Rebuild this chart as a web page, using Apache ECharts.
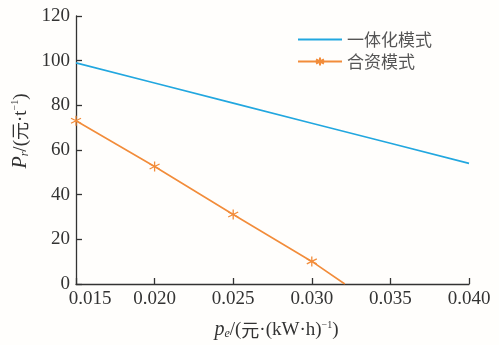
<!DOCTYPE html>
<html>
<head>
<meta charset="utf-8">
<script src="https://cdn.jsdelivr.net/npm/echarts@6/dist/echarts.min.js"></script>
<style>html,body{margin:0;padding:0;background:#fffefc;}#c{width:499px;height:345px;}</style>
</head>
<body>
<div id="c"></div>
<script>
var seriesNames = ['一体化模式', '合资模式'];
var blueX = [0.015, 0.020, 0.025, 0.030, 0.035, 0.040];
var blueY = [99, 90, 81, 72, 63, 54];
var orangeX = [0.015, 0.020, 0.025, 0.030, 0.0321];
var orangeY = [73.1, 52.6, 31.1, 10.1, 0];
var orangeMarked = [true, true, true, true, false];
var xTicks = [0.015, 0.020, 0.025, 0.030, 0.035, 0.040];
var yTicks = [0, 20, 40, 60, 80, 100, 120];

var serif = 'Liberation Serif';
var cjk = 'Noto Sans CJK SC';
var asterisk = 'path://M0,-5L0,5M-4.33,-2.5L4.33,2.5M-4.33,2.5L4.33,-2.5';

var blueData = blueX.map(function (x, i) { return [x, blueY[i]]; });
var orangeData = orangeX.map(function (x, i) {
  var d = { value: [x, orangeY[i]] };
  if (!orangeMarked[i]) d.symbol = 'none';
  return d;
});

var titleRich = {
  i: { fontFamily: serif, fontStyle: 'italic', fontSize: 20, color: '#333' },
  sub: { fontFamily: serif, fontStyle: 'italic', fontSize: 12, color: '#333', verticalAlign: 'bottom', padding: [8, 0, 0, 0] },
  t: { fontFamily: serif, fontSize: 19, color: '#333' },
  c: { fontFamily: cjk, fontSize: 18, color: '#333' },
  sup: { fontFamily: serif, fontSize: 10, color: '#333', verticalAlign: 'top', padding: [0, 0, 8, 0] }
};
var numRich = {
  n: { fontFamily: serif, fontSize: 19, color: '#333' },
  m: { fontFamily: serif, fontSize: 19, color: '#333', padding: [0, 0, 0, 28] }
};

var chart = echarts.init(document.getElementById('c'), null, { renderer: 'canvas' });
chart.setOption({
  backgroundColor: '#fffefc',
  animation: false,
  grid: { left: 76, right: 30, top: 16, bottom: 59 },
  legend: {
    orient: 'vertical',
    left: 292, top: 26,
    itemWidth: 44, itemHeight: 10, itemGap: 5,
    textStyle: { fontFamily: cjk, fontSize: 17, color: '#555' },
    data: [
      { name: seriesNames[0], itemStyle: { opacity: 0 } },
      { name: seriesNames[1] }
    ]
  },
  xAxis: {
    type: 'value',
    min: xTicks[0], max: xTicks[xTicks.length - 1], interval: 0.005,
    axisLine: { lineStyle: { color: '#333', width: 1.3 } },
    axisTick: { inside: true, length: 6, lineStyle: { color: '#333', width: 1.3 } },
    splitLine: { show: false },
    axisLabel: {
      margin: 6,
      fontFamily: serif, fontSize: 19, color: '#333',
      formatter: function (v) {
        var s = v.toFixed(3);
        return Math.abs(v - xTicks[0]) < 1e-9 ? '{m|' + s + '}' : '{n|' + s + '}';
      },
      rich: numRich
    },
    name: '{i|p}{sub|e}{t|/(}{c|元}{t|·(kW·h)}{sup|−1}{t|)}',
    nameLocation: 'middle',
    nameGap: 36,
    nameTextStyle: { padding: [0, 0, 0, 8], rich: titleRich }
  },
  yAxis: {
    type: 'value',
    min: yTicks[0], max: yTicks[yTicks.length - 1], interval: 20,
    axisLine: { show: true, lineStyle: { color: '#333', width: 1.3 } },
    axisTick: { show: true, inside: true, length: 6, lineStyle: { color: '#333', width: 1.3 } },
    splitLine: { show: false },
    axisLabel: {
      margin: 6, fontFamily: serif, fontSize: 19, color: '#333',
      formatter: function (v) { return '{n|' + v + '}'; },
      rich: numRich
    },
    name: '{i|P}{sub|r}{t|/(}{c|元}{t|·t}{sup|−1}{t|)}',
    nameLocation: 'middle',
    nameGap: 37,
    nameTextStyle: { padding: [0, 0, 0, 38], rich: titleRich }
  },
  series: [
    {
      name: seriesNames[0], type: 'line', data: blueData,
      symbol: 'none', lineStyle: { color: '#22a7df', width: 1.6 },
      itemStyle: { color: '#22a7df' }
    },
    {
      name: seriesNames[1], type: 'line', data: orangeData,
      symbol: asterisk, symbolSize: 10, showSymbol: true,
      lineStyle: { color: '#f28c3a', width: 1.6 },
      itemStyle: { color: '#f28c3a', borderColor: '#f28c3a', borderWidth: 1.3 }
    }
  ]
});
</script>
</body>
</html>
